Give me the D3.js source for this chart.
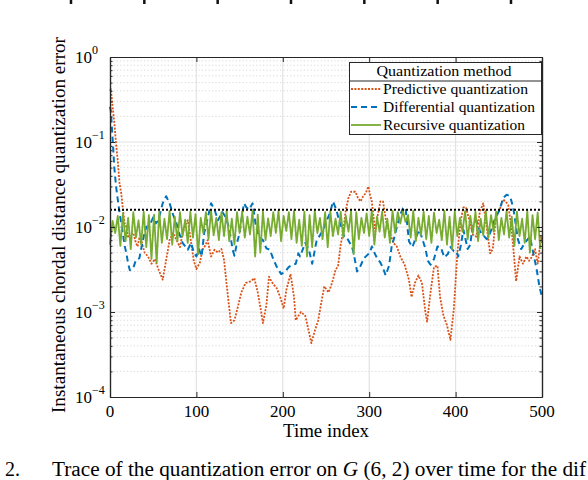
<!DOCTYPE html>
<html><head><meta charset="utf-8">
<script src="https://cdn.jsdelivr.net/npm/d3@7"></script>
<style>body{margin:0;background:#fff} svg{display:block} text{font-family:"Liberation Serif","Times New Roman",serif;fill:#000}</style>
</head><body><svg id="c" width="588" height="480"></svg>
<script>
// ---------- data ----------
const xTicks = [0, 100, 200, 300, 400, 500];
const yTickExps = [0, -1, -2, -3, -4];
const threshold = 0.016;
const legendTitle = "Quantization method";
const seriesNames = ["Predictive quantization", "Differential quantization", "Recursive quantization"];
const xLabel = "Time index";
const yLabel = "Instantaneous chordal distance quantization error";

const predT = [0,1,3,5,7,9,11,13,15,17,19,21,23,27,30,32,34,36,40,44,48,52,56,61,65,69,73,77,81,84,88,90,94,97,100,104,107,110,113,117,121,125,129,132,136,140,144,148,152,157,163,167,171,175,177,181,184,188,193,197,201,204,209,213,215,218,221,226,230,233,237,241,244,248,253,257,261,264,267,270,273,276,279,284,287,290,293,296,299,301,303,307,310,313,316,320,324,328,332,336,341,346,349,353,357,361,365,367,371,375,379,382,386,390,394,398,402,406,409,412,415,420,424,428,432,436,440,443,447,451,455,458,461,465,468,470,474,478,482,485,488,492,495,499,500];
const predV = [0.40,0.42,0.26,0.17,0.095,0.06,0.033,0.025,0.016,0.011,0.01,0.0075,0.0081,0.0085,0.0065,0.0059,0.0075,0.0071,0.005,0.0045,0.0037,0.0042,0.0032,0.0024,0.0041,0.007,0.0085,0.007,0.0058,0.0085,0.011,0.012,0.0065,0.004,0.0032,0.0038,0.0054,0.006,0.007,0.0045,0.0054,0.005,0.0055,0.0041,0.0017,0.00074,0.0008,0.00115,0.0017,0.0022,0.0023,0.0025,0.0017,0.001,0.00074,0.0012,0.0026,0.0022,0.0019,0.0015,0.0011,0.0018,0.0028,0.0015,0.0008,0.0009,0.001,0.0009,0.0006,0.00043,0.0006,0.0008,0.0012,0.002,0.0017,0.0022,0.0031,0.0035,0.0062,0.009,0.016,0.022,0.026,0.026,0.022,0.02,0.023,0.025,0.03,0.024,0.02,0.0088,0.014,0.02,0.02,0.011,0.0085,0.0065,0.0059,0.0045,0.0036,0.0024,0.0015,0.0022,0.0027,0.0022,0.001,0.00077,0.0017,0.0034,0.0035,0.0015,0.0009,0.0007,0.00047,0.0011,0.0049,0.012,0.017,0.017,0.013,0.0081,0.0077,0.015,0.019,0.01,0.0049,0.0055,0.014,0.016,0.021,0.02,0.018,0.009,0.0041,0.0023,0.0045,0.0037,0.0045,0.004,0.0044,0.0055,0.0037,0.0077,0.0065];

const diffT = [0,1,3,5,7,9,11,13,15,17,19,21,23,27,30,34,38,42,46,50,53,56,61,65,69,73,77,80,84,90,94,97,100,103,106,109,113,117,121,125,130,134,138,142,144,147,150,155,158,161,165,169,173,177,181,185,189,193,198,201,204,207,212,215,218,220,226,230,234,239,243,246,251,255,258,262,265,268,271,274,280,282,286,290,294,298,301,303,306,309,313,316,319,323,326,329,332,336,339,342,346,350,354,358,361,365,368,371,375,379,383,387,391,394,398,401,403,406,409,414,417,420,424,428,432,436,440,445,451,455,459,463,466,468,472,476,480,486,490,494,497,500];
const diffV = [0.26,0.23,0.11,0.05,0.03,0.021,0.015,0.011,0.0082,0.006,0.0049,0.0037,0.0031,0.0033,0.0041,0.0043,0.007,0.01,0.0105,0.013,0.011,0.012,0.019,0.023,0.019,0.014,0.011,0.0085,0.0065,0.0054,0.0065,0.005,0.0045,0.0055,0.0045,0.0085,0.0126,0.019,0.016,0.012,0.015,0.013,0.0096,0.0054,0.0046,0.0065,0.0085,0.019,0.017,0.016,0.019,0.01,0.0075,0.007,0.0056,0.0054,0.0042,0.0034,0.0028,0.0029,0.0031,0.0034,0.0036,0.0037,0.0049,0.0045,0.0065,0.0055,0.0037,0.0068,0.008,0.009,0.012,0.015,0.02,0.016,0.012,0.01,0.0077,0.0075,0.0059,0.0049,0.003,0.0035,0.0043,0.0047,0.005,0.0059,0.005,0.0043,0.0038,0.0033,0.0027,0.0035,0.0059,0.0075,0.01,0.014,0.0165,0.017,0.0068,0.0058,0.0075,0.0093,0.0075,0.0056,0.004,0.0036,0.0042,0.0059,0.0057,0.0044,0.0048,0.0058,0.0052,0.0052,0.0045,0.006,0.0093,0.0055,0.0062,0.011,0.012,0.009,0.008,0.0072,0.0085,0.012,0.016,0.022,0.024,0.023,0.018,0.014,0.0072,0.0055,0.0065,0.0077,0.0049,0.0031,0.002,0.0015];

const recStep = 3; // sampled every 3 time indices
const recV = [0.0062,0.0118,0.0085,0.0135,0.006,0.0145,0.0068,0.0128,0.0055,0.015,
0.0075,0.012,0.0062,0.0152,0.0058,0.0138,0.0042,0.014,0.0038,0.0152,
0.0065,0.0125,0.0072,0.0155,0.0062,0.0132,0.0068,0.015,0.0078,0.0122,
0.0065,0.0152,0.0075,0.0142,0.0048,0.0128,0.0085,0.015,0.0072,0.0155,
0.008,0.0128,0.007,0.015,0.0078,0.0155,0.0068,0.0125,0.0062,0.015,
0.0085,0.0152,0.0075,0.0132,0.0082,0.0155,0.0045,0.014,0.005,0.0152,
0.007,0.0126,0.0078,0.015,0.0085,0.0155,0.0068,0.0135,0.009,0.015,
0.0072,0.0155,0.0065,0.0122,0.006,0.0152,0.0045,0.0138,0.0058,0.0155,
0.0085,0.0128,0.0072,0.015,0.0058,0.0155,0.0078,0.0125,0.0082,0.0152,
0.0075,0.0135,0.0088,0.0155,0.0048,0.015,0.0072,0.0128,0.0085,0.0145,
0.0078,0.0155,0.0062,0.0132,0.0088,0.0152,0.0075,0.0125,0.0065,0.0155,
0.0085,0.015,0.011,0.0155,0.0115,0.0138,0.0075,0.0155,0.0068,0.0128,
0.008,0.0152,0.0072,0.0135,0.0065,0.0148,0.0085,0.0122,0.007,0.0155,
0.0062,0.0132,0.0055,0.0152,0.0078,0.0128,0.0088,0.0155,0.0072,0.0135,
0.0085,0.0152,0.0068,0.0125,0.008,0.0155,0.0075,0.0138,0.0088,0.0152,
0.007,0.0128,0.0082,0.0155,0.0075,0.0132,0.006,0.0152,0.0078,0.0125,
0.0065,0.0155,0.005,0.0138,0.0072,0.0148,0.0055];

const prevFigTicks = [0, 1, 2, 3, 4, 5, 6]; // tick marks of the figure above, cut off at the top
const captionLead = "2.";
const captionText = ["Trace of the quantization error on ", "G", " (6, 2) over time for the dif"];

// ---------- drawing ----------
const svg = d3.select("#c");
const M = {l: 110, r: 542, t: 57, b: 397};
const x = d3.scaleLinear().domain([0, 500]).range([M.l, M.r]);
const y = d3.scaleLog().domain([1e-4, 1]).range([M.b, M.t]);
const colors = ["#D95319", "#0072BD", "#77AC30"];
const dashes = ["2,1.4", "6,4", null];
const widths = [1.8, 2, 1.8];

const majors = yTickExps.map(e => Math.pow(10, e));
const minors = [];
for (let e = -4; e < 0; e++) for (let k = 2; k <= 9; k++) minors.push(k * Math.pow(10, e));

// grid
const g = svg.append("g");
g.selectAll(".mg").data(minors).join("line")
  .attr("x1", M.l).attr("x2", M.r).attr("y1", d => y(d)).attr("y2", d => y(d))
  .attr("stroke", "#cfcfcf").attr("stroke-width", 0.8).attr("stroke-dasharray", "1.2,2.2");
g.selectAll(".Mg").data(majors.filter(d => d > 1e-4 && d < 1)).join("line")
  .attr("x1", M.l).attr("x2", M.r).attr("y1", d => y(d)).attr("y2", d => y(d))
  .attr("stroke", "#e3e3e3").attr("stroke-width", 1.2);
g.selectAll(".xg").data(xTicks.filter(d => d > 0 && d < 500)).join("line")
  .attr("y1", M.t).attr("y2", M.b).attr("x1", d => x(d)).attr("x2", d => x(d))
  .attr("stroke", "#e3e3e3").attr("stroke-width", 1.2);

// series
const line = d3.line().x(d => x(d[0])).y(d => y(d[1]));
const predData = predT.map((t, i) => [t, predV[i]]).filter(d => d[1] !== undefined);
const diffData = diffT.map((t, i) => [t, diffV[i]]).filter(d => d[1] !== undefined);
const recData = recV.map((v, i) => [i * recStep, v]);
[predData, diffData, recData].forEach((data, i) => {
  const p = svg.append("path").datum(data).attr("d", line).attr("fill", "none")
    .attr("stroke", colors[i]).attr("stroke-width", widths[i]).attr("stroke-linejoin", "round");
  if (dashes[i]) p.attr("stroke-dasharray", dashes[i]);
});
// threshold
svg.append("line").attr("x1", x(0)).attr("x2", x(500)).attr("y1", y(threshold)).attr("y2", y(threshold))
  .attr("stroke", "#000").attr("stroke-width", 2).attr("stroke-dasharray", "2,2");

// axes (box with inward ticks)
const axCol = "#262626";
function styleAx(sel) { sel.selectAll("path.domain").attr("stroke", axCol).attr("stroke-width", 1.2); sel.selectAll(".tick line").attr("stroke", axCol); sel.selectAll("text").remove(); }
svg.append("g").attr("transform", `translate(${M.l},0)`).call(d3.axisLeft(y).tickValues(majors).tickSize(-5).tickSizeOuter(0).tickFormat("")).call(styleAx);
svg.append("g").attr("transform", `translate(${M.l},0)`).call(d3.axisLeft(y).tickValues(minors).tickSize(-2.5).tickSizeOuter(0).tickFormat("")).call(styleAx);
svg.append("g").attr("transform", `translate(${M.r},0)`).call(d3.axisRight(y).tickValues(majors).tickSize(-5).tickSizeOuter(0).tickFormat("")).call(styleAx);
svg.append("g").attr("transform", `translate(${M.r},0)`).call(d3.axisRight(y).tickValues(minors).tickSize(-2.5).tickSizeOuter(0).tickFormat("")).call(styleAx);
svg.append("g").attr("transform", `translate(0,${M.b})`).call(d3.axisBottom(x).tickValues(xTicks).tickSize(-5).tickSizeOuter(0).tickFormat("")).call(styleAx);
svg.append("g").attr("transform", `translate(0,${M.t})`).call(d3.axisTop(x).tickValues(xTicks).tickSize(-5).tickSizeOuter(0).tickFormat("")).call(styleAx);

// tick labels
svg.selectAll(".xl").data(xTicks).join("text").attr("x", d => x(d)).attr("y", 417)
  .attr("text-anchor", "middle").attr("font-size", 17).text(d => d);
const yl = svg.selectAll(".yl").data(yTickExps).join("text").attr("x", 75).attr("y", d => y(Math.pow(10, d)) + 6).attr("font-size", 17);
yl.append("tspan").text("10");
yl.append("tspan").attr("dy", -9).attr("font-size", 12).text(d => d === 0 ? "0" : "\u2212" + Math.abs(d));

// axis labels
svg.append("text").attr("x", (M.l + M.r) / 2).attr("y", 437).attr("text-anchor", "middle").attr("font-size", 18)
  .attr("textLength", 86).attr("lengthAdjust", "spacingAndGlyphs").text(xLabel);
svg.append("text").attr("transform", `translate(65,${(37 + 413) / 2}) rotate(-90)`).attr("text-anchor", "middle").attr("font-size", 18)
  .attr("textLength", 376).attr("lengthAdjust", "spacingAndGlyphs").text(yLabel);

// legend
const L = {x: 349.5, y: 62.5, w: 192, h: 72};
const lg = svg.append("g");
lg.append("rect").attr("x", L.x).attr("y", L.y).attr("width", L.w).attr("height", L.h).attr("fill", "#fff").attr("stroke", axCol).attr("stroke-width", 1);
lg.append("line").attr("x1", L.x).attr("x2", L.x + L.w).attr("y1", 81).attr("y2", 81).attr("stroke", axCol).attr("stroke-width", 1);
lg.append("text").attr("x", 444).attr("y", 76).attr("text-anchor", "middle").attr("font-size", 14)
  .attr("textLength", 135).attr("lengthAdjust", "spacingAndGlyphs").text(legendTitle);
const legW = [145, 152, 142];
seriesNames.forEach((name, i) => {
  const by = 93.5 + i * 18;
  const s = lg.append("line").attr("x1", 351).attr("x2", 381).attr("y1", by - 4.5).attr("y2", by - 4.5)
    .attr("stroke", colors[i]).attr("stroke-width", widths[i]);
  if (dashes[i]) s.attr("stroke-dasharray", dashes[i]);
  lg.append("text").attr("x", 383).attr("y", by).attr("font-size", 14)
    .attr("textLength", legW[i]).attr("lengthAdjust", "spacingAndGlyphs").text(name);
});

// remnants of the figure above (cut off at the top)
const xPrev = d3.scaleLinear().domain([0, 6]).range([71, 511]);
svg.selectAll(".pt").data(prevFigTicks).join("line").attr("x1", d => xPrev(d)).attr("x2", d => xPrev(d))
  .attr("y1", 0).attr("y2", 4).attr("stroke", "#111").attr("stroke-width", 2.5);

// caption (visible part)
svg.append("text").attr("x", 5).attr("y", 476).attr("font-size", 20).text(captionLead);
const cap = svg.append("text").attr("x", 52).attr("y", 476).attr("font-size", 20)
  .attr("textLength", 534).attr("lengthAdjust", "spacingAndGlyphs");
cap.append("tspan").text(captionText[0]);
cap.append("tspan").attr("font-style", "italic").text(captionText[1]);
cap.append("tspan").text(captionText[2]);
</script></body></html>
